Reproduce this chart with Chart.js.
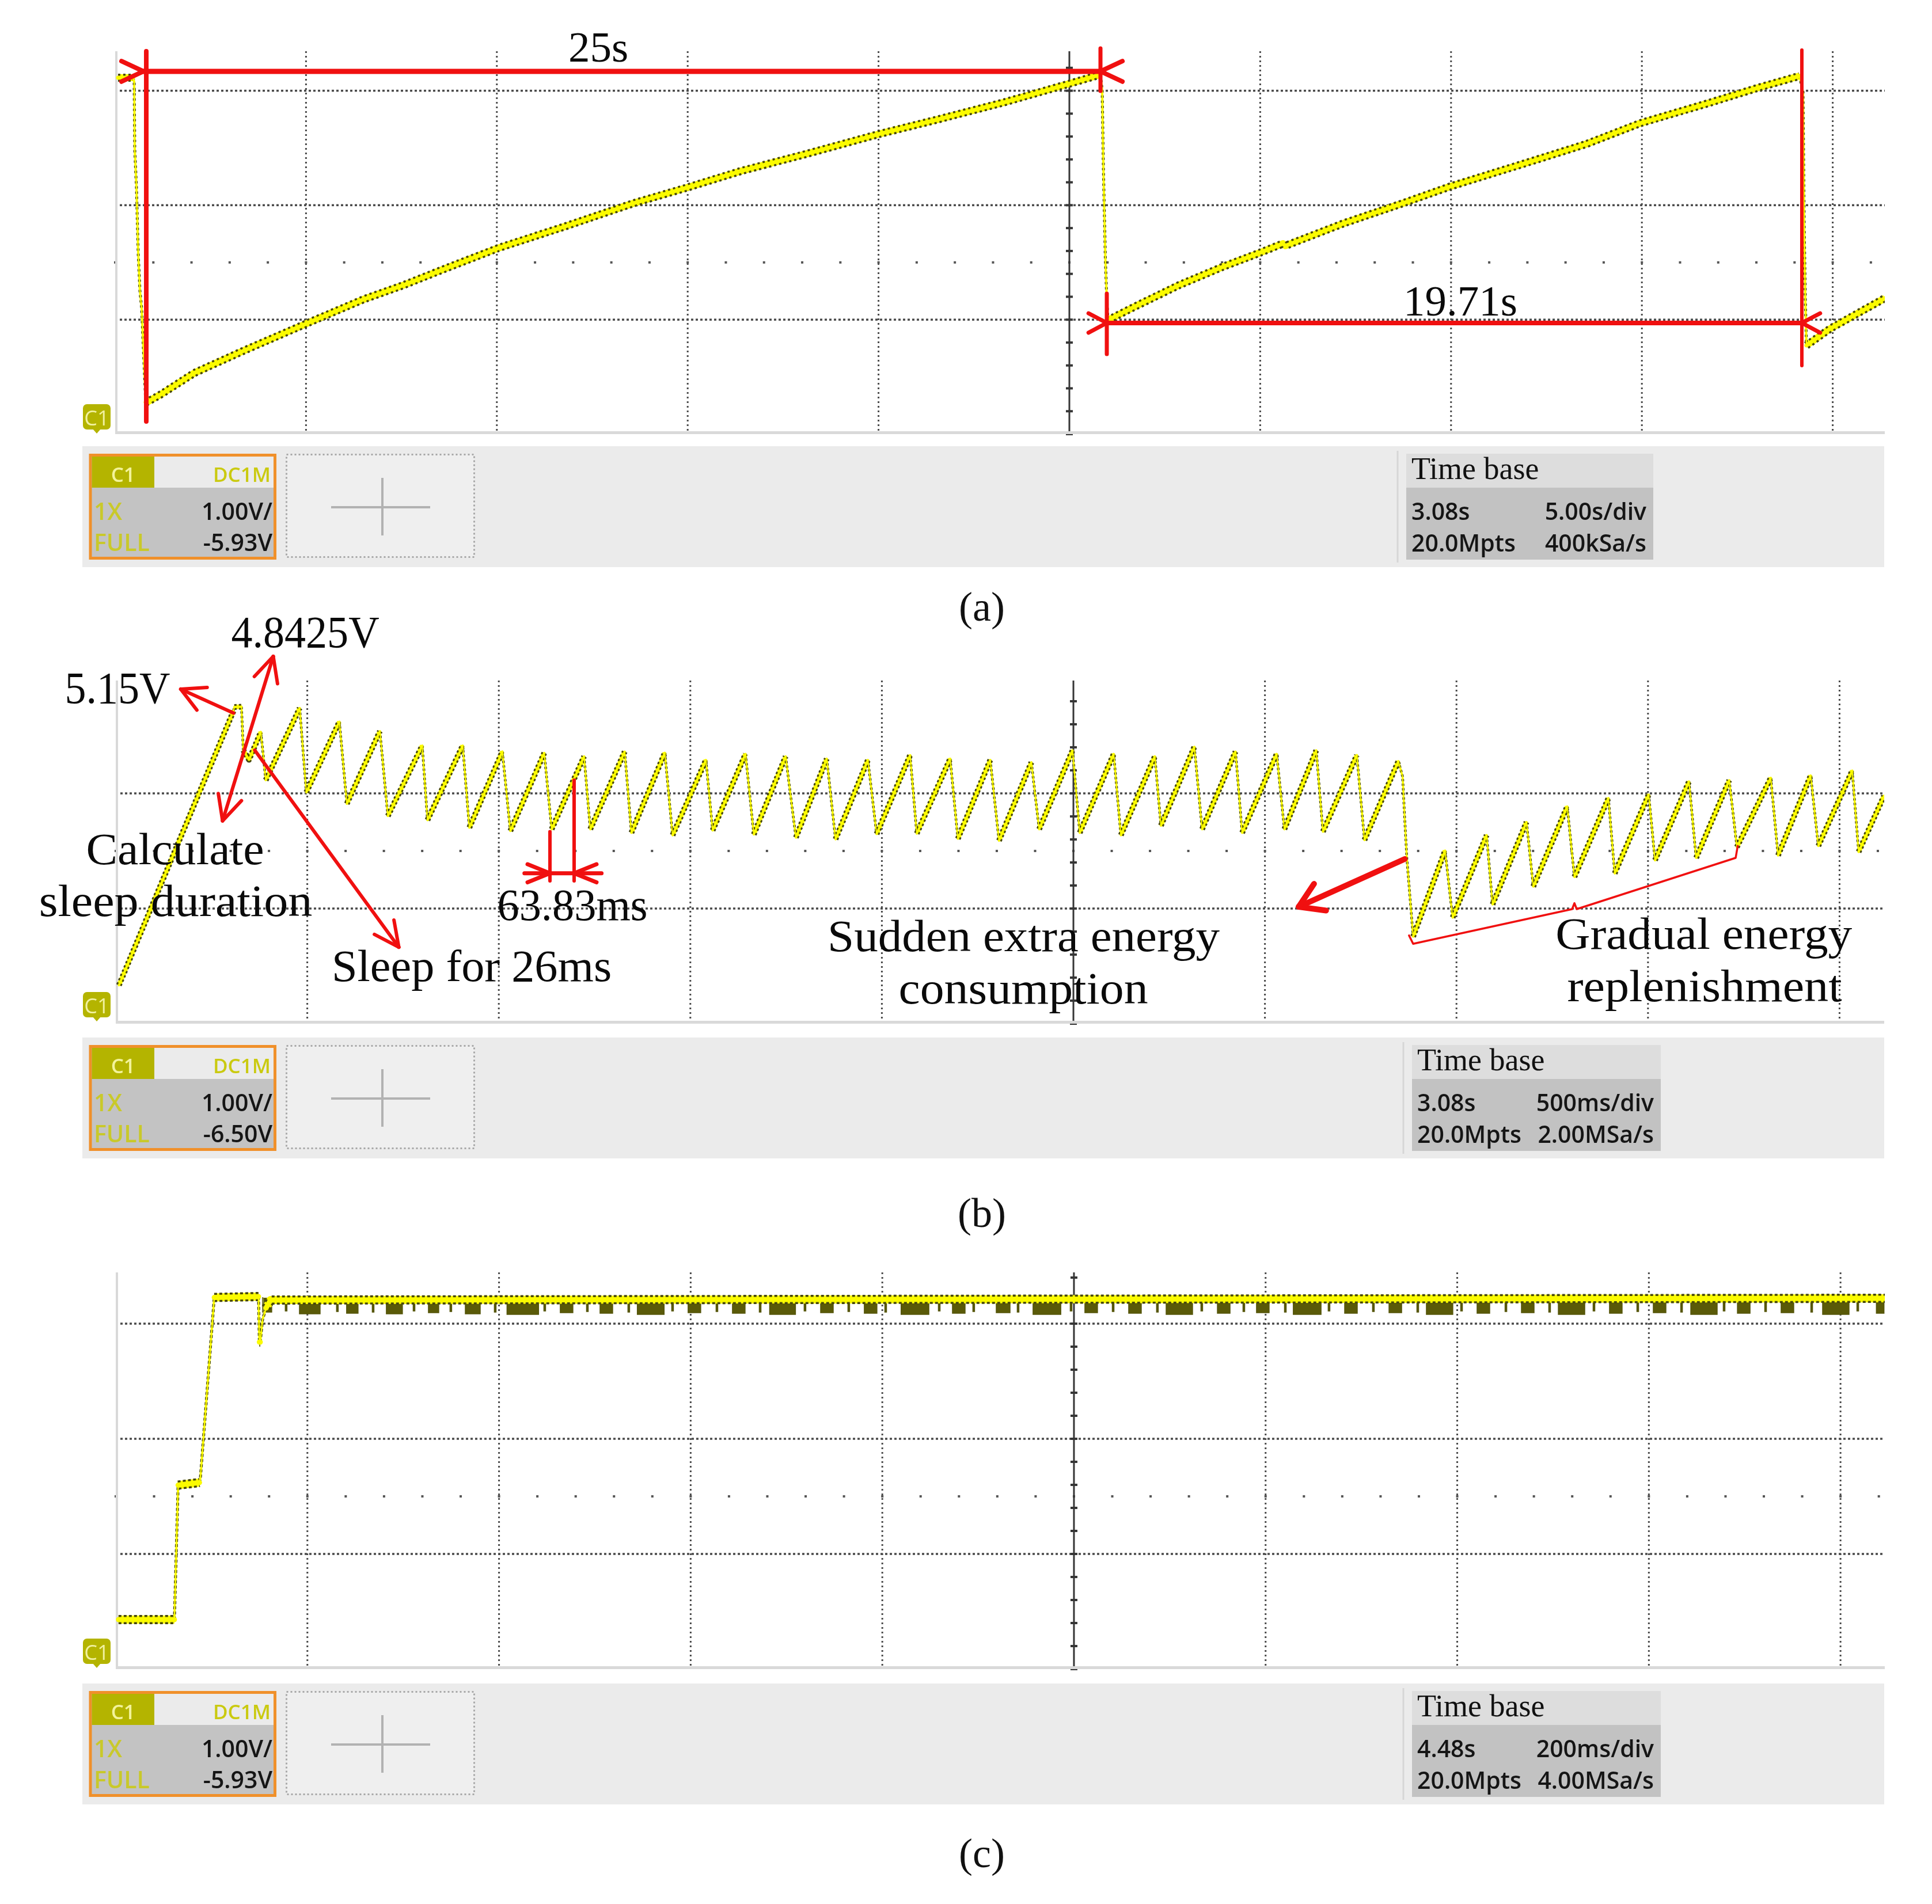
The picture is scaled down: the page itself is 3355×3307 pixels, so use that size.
<!DOCTYPE html>
<html><head><meta charset="utf-8">
<script src="https://cdn.jsdelivr.net/npm/chart.js@4.4.1/dist/chart.umd.min.js"></script>
<style>
html,body{margin:0;padding:0;background:#fff;}
#page{position:relative;width:3355px;height:3307px;overflow:hidden;background:#fff;}
canvas{position:absolute;left:0;}
#ov{position:absolute;left:0;top:0;}
</style></head><body>
<div id="page">
<canvas id="ca" width="3355" height="770" style="top:0px"></canvas>
<canvas id="cb" width="3355" height="770" style="top:1040px"></canvas>
<canvas id="cc" width="3355" height="760" style="top:2150px"></canvas>
<svg id="ov" width="3355" height="3307" xmlns="http://www.w3.org/2000/svg"></svg>
</div>
<script>
// ================= DATA =================
// Panel (a): time in s (0 = screen centre), voltage in V above bottom grid line (1 V/div)
const aTime = [-24.925,-24.532,-24.502,-24.487,-24.442,-24.397,-24.351,-24.306,-24.20,-24.125,-23.778,-22.933,-21.666,-19.953,-18.497,-17.434,-16.370,-14.967,-13.202,-11.421,-9.973,-8.600,-6.865,-4.994,-3.410,-1.675,0.015,0.739,0.815,0.860,0.890,0.943,0.975,1.011,1.765,2.882,3.998,4.994,5.597,5.658,7.182,8.781,9.973,11.965,13.549,14.952,16.747,18.014,19.131,19.222,19.252,19.282,19.312,19.931,21.364];
const aVolt = [3.114,3.114,3.078,2.485,2.153,1.585,1.253,1.097,0.277,0.287,0.352,0.533,0.724,0.971,1.177,1.303,1.444,1.625,1.816,2.017,2.158,2.299,2.450,2.621,2.752,2.902,3.063,3.134,3.139,2.998,2.354,1.534,1.227,0.996,1.122,1.303,1.459,1.585,1.665,1.645,1.841,2.022,2.163,2.369,2.535,2.716,2.892,3.023,3.129,2.988,1.831,1.177,0.775,0.921,1.187];

// Panel (b): time in ms
const bTime = [-2491.6,-2407.6,-2282.2,-2192.4,-2190.4,-2171.7,-2167.2,-2152.1,-2121.2,-2108.4,
 -2019.8,-2002.5,-1916.2,-1896.7,-1810.4,-1789.6,-1699.9,-1686.2,-1594.2,-1576.9,
 -1490.7,-1469.9,-1381.4,-1362.0,-1277.4,-1261.2,-1171.4,-1153.9,-1066.6,-1046.4,
 -959.3,-941.8,-856.0,-834.3,-751.2,-724.4,-643.9,-621.0,-536.5,-513.7,
 -426.3,-408.9,-321.7,-301.6,-217.1,-194.2,-109.7,-89.4,-2.3,16.5,
 105.2,123.9,212.6,228.5,315.7,336.0,423.2,440.5,530.7,550.8,
 633.9,651.4,739.9,759.8,848.3,859.4,865.0,870.4,879.4,886.9,
 970.2,990.0,1078.7,1094.2,1182.8,1200.5,1289.1,1307.9,1396.6,1413.1,
 1501.8,1518.3,1607.0,1625.7,1712.1,1732.1,1820.5,1839.5,1924.7,1944.7,
 2033.2,2049.8,2116.2];
const bVolt = [0.334,1.006,2.0045,2.717,2.75,2.7525,2.375,2.292,2.533,2.115,
 2.7405,2.009,2.6225,1.91,2.54,1.804,2.415,1.7685,2.415,1.7025,
 2.363,1.674,2.351,1.689,2.321,1.689,2.3625,1.658,2.3525,1.637,
 2.29,1.6785,2.342,1.6435,2.321,1.6165,2.3005,1.602,2.29,1.6475,
 2.3315,1.6515,2.3005,1.606,2.29,1.5895,2.2695,1.689,2.373,1.658,
 2.342,1.637,2.321,1.72,2.404,1.689,2.3625,1.658,2.342,1.689,
 2.373,1.668,2.3315,1.5955,2.28,2.145,1.772,1.44,1.067,0.756,
 1.5025,0.922,1.637,1.036,1.751,1.1915,1.886,1.2745,1.9585,1.3055,
 1.99,1.4195,2.1035,1.44,2.114,1.5335,2.1345,1.461,2.155,1.544,
 2.197,1.492,1.979];

// Panel (c): time in ms
const cTime = [-997.1,-938.8,-934.9,-922.5,-912.6,-911.6,-897.2,-851.0,-850.1,-849.2,-846.8,-843.2,-838.4,846.2];
const cVolt = [0.43,0.43,1.5975,1.61,1.62,1.6665,3.2275,3.235,2.84,2.84,3.035,3.135,3.205,3.22];
// dark sample-envelope blobs under the flat trace of (c)
const cBlobTime = [-842.0,-797.5,-753.1,-709.2,-668.3,-627.4,-575.2,-529.5,-488.0,-441.7,-396.1,-349.8,-304.1,-257.8,-212.2,-165.9,-120.2,-73.9,-28.2,18.0,63.7,110.0,156.3,197.1,243.4,289.1,335.4,381.6,427.3,473.6,519.3,565.5,611.2,657.5,699.0,744.6,795.1,841.4];
const cBlobWidth = [9.6,21.6,12,16.8,10.8,15.6,33,13.2,13.2,28,13.2,13.2,27,13.2,13.2,29,13.2,14.4,29,13.2,13.2,27.6,13.2,13.2,29,13.2,13.2,27.6,13.2,13.2,27.6,13.2,13.2,27.6,13.2,13.2,27.6,8];
const cBlobLow = [3.1,3.085,3.09,3.085,3.095,3.085,3.08,3.095,3.09,3.08,3.095,3.09,3.08,3.095,3.09,3.08,3.09,3.095,3.08,3.095,3.09,3.08,3.09,3.095,3.08,3.09,3.095,3.08,3.09,3.095,3.08,3.09,3.095,3.08,3.09,3.095,3.08,3.09];
const cSpikeTime = [-822.2,-768.7,-731.4,-688.7,-650.3,-604.0,-552.3,-507.8,-464.6,-418.9,-372.6,-327.5,-280.7,-235.0,-196.5,-140.6,-104.6,-58.3,-3.0,40.9,87.1,133.4,177.3,220.6,266.2,312.5,358.8,404.5,450.8,496.4,542.7,588.4,634.1,678.5,721.8,769.9,818.0];
const cSpikeLow = [3.11,3.105,3.1,3.11,3.105,3.1,3.11,3.105,3.1,3.11,3.105,3.1,3.11,3.105,3.1,3.11,3.105,3.1,3.11,3.105,3.1,3.11,3.105,3.1,3.11,3.105,3.1,3.11,3.105,3.1,3.11,3.105,3.1,3.11,3.105,3.1,3.11];
const cBase = 3.225;

// Grid (tick) values
const aGridX = [-20,-15,-10,-5,5,10,15,20];
const bGridX = [-2000,-1500,-1000,-500,500,1000,1500,2000];
const cGridX = [-800,-600,-400,-200,200,400,600,800];
const vGrid = [1,2,3];
const vSparse = 1.5;

// Info-bar texts
const chanScale = ['1.00V/','1.00V/','1.00V/'];
const chanOffset = ['-5.93V','-6.50V','-5.93V'];
const tbDelay = ['3.08s','3.08s','4.48s'];
const tbScale = ['5.00s/div','500ms/div','200ms/div'];
const tbPoints = ['20.0Mpts','20.0Mpts','20.0Mpts'];
const tbRate = ['400kSa/s','2.00MSa/s','4.00MSa/s'];
const captions = ['(a)','(b)','(c)'];

// Annotation texts (positions in data units; sx = horizontal stretch)
const txtA = [{t:'25s',at:[-12.342,3.2545],sx:1},{t:'19.71s',at:[10.244,1.036],sx:1}];
const txtB = [
 {t:'5.15V',at:[-2495.5,2.7875],sx:0.95},
 {t:'4.8425V',at:[-2005.4,3.2715],sx:0.95},
 {t:'Calculate',at:[-2345.1,1.385],sx:1.05},
 {t:'sleep duration',at:[-2343.6,0.935],sx:1.08},
 {t:'Sleep for 26ms',at:[-1570.9,0.37],sx:1.03},
 {t:'63.83ms',at:[-1307.9,0.9],sx:0.98},
 {t:'Sudden extra energy',at:[-130.0,0.632],sx:1.065},
 {t:'consumption',at:[-130.8,0.175],sx:1.075},
 {t:'Gradual energy',at:[1645.7,0.6525],sx:1.07},
 {t:'replenishment',at:[1647.6,0.1965],sx:1.08}
];

// ================= LAYOUT / STYLE =================
const RED = 'rgb(240,16,16)';
const YEL = '#fbfb00';
const DARK = '#46460c';
const SANS = "'Open Sans','Noto Sans',sans-serif";
const SERIF = "'Liberation Serif','Times New Roman',serif";
const barTop = [775,1802,2924];
const tbLeft = [2442,2452,2452];
const tbRight = [2871,2884,2884];
const markerTop = [702,1723,2846];
const captionY = [1078,2131,3243];
const canvasTop = [0,1040,2150];

const annA = [
 {type:'line',pts:[[-24.185,3.345],[-24.185,0.111]],w:8},
 {type:'line',pts:[[-24.26,3.169],[0.815,3.169]],w:9},
 {type:'line',pts:[[0.815,3.37],[0.815,2.998]],w:7},
 {type:'head',at:[-24.26,3.169],dir:[1,0],len:42,ang:25,w:8},
 {type:'head',at:[0.815,3.169],dir:[-1,0],len:42,ang:25,w:8},
 {type:'line',pts:[[0.981,1.227],[0.981,0.699]],w:7},
 {type:'line',pts:[[0.981,0.971],[19.191,0.971]],w:8},
 {type:'line',pts:[[19.191,3.355],[19.191,0.599]],w:6},
 {type:'head',at:[0.981,0.971],dir:[1,0],len:36,ang:28,w:7},
 {type:'head',at:[19.191,0.971],dir:[-1,0],len:36,ang:28,w:7}
];
const annB = [
 {type:'arrow',from:[-2192.4,2.698],to:[-2330.4,2.9055],w:6,len:46,ang:28},
 {type:'arrow',from:[-2221.1,1.7615],to:[-2088.8,3.19],w:6,len:48,ang:26,both:true},
 {type:'arrow',from:[-2137.2,2.375],to:[-1761.0,0.664],w:6,len:48,ang:26},
 {type:'line',pts:[[-1366.5,1.667],[-1366.5,1.24]],w:6},
 {type:'line',pts:[[-1303.4,2.115],[-1303.4,1.24]],w:6},
 {type:'line',pts:[[-1433.1,1.306],[-1231.8,1.306]],w:7},
 {type:'head',at:[-1366.5,1.306],dir:[1,0],len:42,ang:22,w:7},
 {type:'head',at:[-1303.4,1.306],dir:[-1,0],len:42,ang:22,w:7},
 {type:'arrow',from:[865.0,1.43],to:[588.1,1.015],w:10,len:48,ang:32},
 {type:'line',pts:[[876.1,0.7665],[886.9,0.694],[1301.9,0.995],[1307.9,1.0465],[1313.9,0.995],[1728.8,1.44],[1734.2,1.544]],w:3.5}
];

// ================= HELPERS =================
function P(chart,p){return [chart.scales.x.getPixelForValue(p[0]),chart.scales.y.getPixelForValue(p[1])];}
function head(c,tip,dir,len,ang){
  const n=Math.hypot(dir[0],dir[1]); const ux=-dir[0]/n, uy=-dir[1]/n; const r=ang*Math.PI/180;
  [r,-r].forEach(a=>{const cs=Math.cos(a),sn=Math.sin(a);const vx=ux*cs-uy*sn,vy=ux*sn+uy*cs;
    c.beginPath();c.moveTo(tip[0],tip[1]);c.lineTo(tip[0]+vx*len,tip[1]+vy*len);c.stroke();});
}
function drawGrid(chart,g){
  const c=chart.ctx,X=chart.scales.x,Y=chart.scales.y,A=chart.chartArea;
  c.save();
  c.lineWidth=3;c.strokeStyle='#4a4a4a';c.setLineDash([3,5]);
  g.xGrid.forEach(v=>{const x=X.getPixelForValue(v);c.beginPath();c.moveTo(x,A.top);c.lineTo(x,A.bottom);c.stroke();});
  c.setLineDash([4,4]);c.lineWidth=3.5;
  vGrid.forEach(v=>{const y=Y.getPixelForValue(v);if(y<A.top+2||y>A.bottom-4)return;c.beginPath();c.moveTo(A.left,y);c.lineTo(A.right,y);c.stroke();});
  c.setLineDash([]);
  c.fillStyle='#555';
  const ys=Y.getPixelForValue(vSparse);
  for(let k=0;;k++){const v=g.xmin+k*g.xMinor;if(v>g.xmax)break;const x=X.getPixelForValue(v);c.fillRect(x-2,ys-2,4,4);}
  const x0=X.getPixelForValue(0);
  c.strokeStyle='#363636';c.lineWidth=3;c.beginPath();c.moveTo(x0,A.top);c.lineTo(x0,A.bottom);c.stroke();
  c.fillStyle='#363636';
  for(let k=0;;k++){const v=k*0.2;if(v>g.ymax)break;const y=Y.getPixelForValue(v);c.fillRect(x0-6,y-2,12,4);}
  c.strokeStyle='#d9d9d9';c.lineWidth=4;c.beginPath();c.moveTo(A.left+2,A.top);c.lineTo(A.left+2,A.bottom);c.stroke();
  c.lineWidth=5;c.beginPath();c.moveTo(A.left,A.bottom-2.5);c.lineTo(A.right,A.bottom-2.5);c.stroke();
  c.restore();
}
function drawAnn(chart,list){
  const c=chart.ctx;c.save();c.strokeStyle=RED;c.lineCap='round';c.lineJoin='round';
  list.forEach(a=>{
    c.lineWidth=a.w;
    if(a.type==='line'){c.beginPath();a.pts.forEach((p,i)=>{const q=P(chart,p);if(i)c.lineTo(q[0],q[1]);else c.moveTo(q[0],q[1]);});c.stroke();}
    else if(a.type==='head'){head(c,P(chart,a.at),a.dir,a.len,a.ang);}
    else if(a.type==='arrow'){const f=P(chart,a.from),t=P(chart,a.to);c.beginPath();c.moveTo(f[0],f[1]);c.lineTo(t[0],t[1]);c.stroke();
      const d=[t[0]-f[0],t[1]-f[1]];head(c,t,d,a.len,a.ang);if(a.both)head(c,f,[-d[0],-d[1]],a.len,a.ang);}
  });
  c.restore();
}
function steep(s){const dx=Math.abs(s.p1.x-s.p0.x),dy=Math.abs(s.p1.y-s.p0.y);return dx<0.3*dy;}

function makeChart(id,cfg){
  const pts=cfg.t.map((t,i)=>({x:t,y:cfg.v[i]}));
  const w=cfg.w; // [wide, dark, core] for normal and steep segments
  const datasets=[
    {data:pts,showLine:true,pointRadius:0,borderColor:YEL,borderWidth:w[2],borderJoinStyle:'round',borderCapStyle:'round',order:0,
     segment:{borderWidth:s=>steep(s)?w[5]:w[2]}},
    {data:pts,showLine:true,pointRadius:0,borderColor:DARK,borderWidth:w[1],borderDash:cfg.dash,borderJoinStyle:'round',order:1,
     segment:{borderWidth:s=>steep(s)?w[4]:w[1]}},
    {data:pts,showLine:true,pointRadius:0,borderColor:YEL,borderWidth:w[0],borderJoinStyle:'round',order:2,
     segment:{borderWidth:s=>steep(s)?w[3]:w[0]}}
  ];
  if(cfg.extra)datasets.push(cfg.extra);
  const plugin={id:'scope_'+id,
    beforeDatasetsDraw(chart){drawGrid(chart,cfg);},
    afterDatasetsDraw(chart){drawAnn(chart,cfg.ann);}};
  return new Chart(document.getElementById(id),{type:'scatter',data:{datasets},
    options:{responsive:false,animation:false,devicePixelRatio:1,events:[],
      layout:{padding:cfg.pad},
      plugins:{legend:{display:false},tooltip:{enabled:false}},
      scales:{x:{type:'linear',display:false,min:cfg.xmin,max:cfg.xmax},
              y:{type:'linear',display:false,min:0,max:cfg.ymax}}},
    plugins:[plugin]});
}

// envelope for (c)
const ev=[];
cBlobTime.forEach((t,i)=>ev.push([t,cBlobWidth[i],cBlobLow[i]]));
cSpikeTime.forEach((t,i)=>ev.push([t,1.8,cSpikeLow[i]]));
ev.sort((p,q)=>p[0]-q[0]);
const env=[{x:-846,y:cBase}];
ev.forEach(e=>{const l=e[0]-e[1]/2,r=e[0]+e[1]/2;env.push({x:l,y:cBase},{x:l,y:e[2]},{x:r,y:e[2]},{x:r,y:cBase});});
env.push({x:846.2,y:cBase});

const chA=makeChart('ca',{t:aTime,v:aVolt,xmin:-25,xmax:21.364,ymax:3.345,xGrid:aGridX,xMinor:1,
  pad:{left:200,right:82,top:89,bottom:16},w:[12,14,7,4,5,2.5],dash:[4,5],ann:annA});
const chB=makeChart('cb',{t:bTime,v:bVolt,xmin:-2500,xmax:2116.6,ymax:2.98,xGrid:bGridX,xMinor:100,
  pad:{left:201,right:83,top:142,bottom:32},w:[8,10,4,3.5,4.5,2],dash:[4,4],ann:annB});
const chC=makeChart('cc',{t:cTime,v:cVolt,xmin:-1000,xmax:846.2,ymax:3.445,xGrid:cGridX,xMinor:40,
  pad:{left:201,right:82,top:60,bottom:11},w:[14,16,9,4,5,2.5],dash:[5,4],ann:[],
  extra:{data:env,showLine:true,pointRadius:0,borderColor:'#55550a',borderWidth:1.5,backgroundColor:'#5a5a08',fill:{value:cBase},order:3}});

// ================= SVG OVERLAY =================
const NS='http://www.w3.org/2000/svg';
const svg=document.getElementById('ov');
function mk(tag,attrs,text){const e=document.createElementNS(NS,tag);for(const k in attrs)e.setAttribute(k,attrs[k]);if(text!=null)e.textContent=text;svg.appendChild(e);return e;}
function txt(x,y,s,size,fam,fill,anchor,weight,sx){
  const a={'font-size':size,'font-family':fam,fill:fill,'text-anchor':anchor||'start','font-weight':weight||400};
  if(sx&&sx!==1){a.x=0;a.y=0;a.transform='translate('+x+','+y+') scale('+sx+',1)';}else{a.x=x;a.y=y;}
  return mk('text',a,s);
}

function bar(i){
  const T=barTop[i],L=tbLeft[i],R=tbRight[i];
  mk('rect',{x:143,y:T,width:3129,height:210,fill:'#ebebeb'});
  mk('rect',{x:157,y:T+15.5,width:320.5,height:179,fill:'#c3c3c3',stroke:'#f0902a','stroke-width':5});
  mk('rect',{x:159.5,y:T+18,width:108.5,height:54,fill:'#b4b400'});
  mk('rect',{x:268,y:T+18,width:207,height:54,fill:'#ebebeb'});
  txt(213.75,T+62,'C1',35,SANS,'#f3f39a','middle',600);
  txt(470,T+62,'DC1M',35,SANS,'#caca10','end',600);
  txt(163,T+128,'1X',41,SANS,'#c9c92a','start',600);
  txt(473,T+128,chanScale[i],41,SANS,'#151515','end',600);
  txt(163,T+182,'FULL',41,SANS,'#c9c92a','start',600);
  txt(473,T+182,chanOffset[i],41,SANS,'#151515','end',600);
  mk('rect',{x:497.5,y:T+14.5,width:326,height:178,fill:'#efefef',stroke:'#a8a8a8','stroke-width':3,'stroke-dasharray':'3 4'});
  mk('line',{x1:575,y1:T+106,x2:747,y2:T+106,stroke:'#b2b2b2','stroke-width':4});
  mk('line',{x1:664,y1:T+55,x2:664,y2:T+155,stroke:'#b2b2b2','stroke-width':4});
  mk('line',{x1:L-15,y1:T+8,x2:L-15,y2:T+202,stroke:'#d6d6d6','stroke-width':3});
  mk('rect',{x:L,y:T+13,width:R-L,height:59,fill:'#dddddd'});
  mk('rect',{x:L,y:T+72,width:R-L,height:125,fill:'#c2c2c2'});
  txt(L+9,T+57,'Time base',54,SERIF,'#111');
  txt(L+9,T+128,tbDelay[i],41,SANS,'#151515','start',600);
  txt(R-12,T+128,tbScale[i],41,SANS,'#151515','end',600);
  txt(L+9,T+183,tbPoints[i],41,SANS,'#151515','start',600);
  txt(R-12,T+183,tbRate[i],41,SANS,'#151515','end',600);
}
function marker(i){
  const y=markerTop[i];
  mk('rect',{x:144,y:y,width:48,height:44,rx:7,fill:'#b4b400'});
  mk('path',{d:'M161 '+(y+43)+' L168 '+(y+51)+' L175 '+(y+43)+' Z',fill:'#b4b400'});
  txt(168,y+37,'C1',36,SANS,'#f1f1a0','middle');
}
[0,1,2].forEach(i=>{bar(i);marker(i);txt(1705,captionY[i],captions[i],72,SERIF,'#111','middle');});
function annText(chart,top,list,size){list.forEach(a=>{const q=P(chart,a.at);txt(q[0],q[1]+top,a.t,size,SERIF,'#0a0a0a','middle',400,a.sx);});}
annText(chA,canvasTop[0],txtA,75);
annText(chB,canvasTop[1],txtB,78);
</script>
</body></html>
